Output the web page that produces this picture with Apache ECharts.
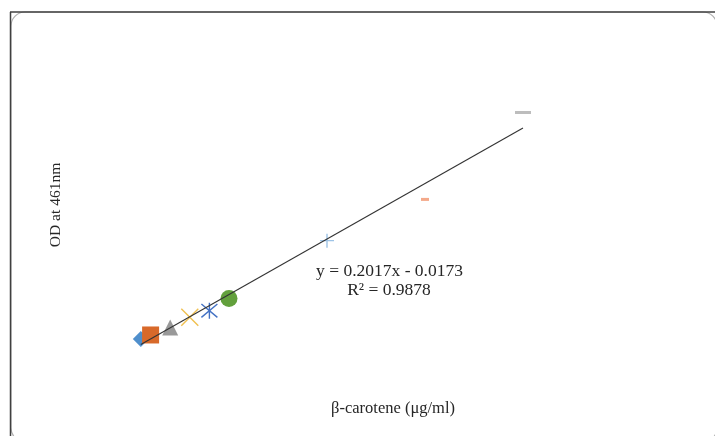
<!DOCTYPE html>
<html>
<head>
<meta charset="utf-8">
<script src="https://cdn.jsdelivr.net/npm/echarts@6/dist/echarts.min.js"></script>
<style>
html,body{margin:0;padding:0;background:#fff;}
#chart{width:715px;height:436px;}
</style>
</head>
<body>
<div id="chart"></div>
<script>
// ---- data ----
const concentrations = [0.5, 1, 2, 3, 4, 5, 10, 15, 20];
const odValues = [0.18, 0.255, 0.39, 0.576, 0.696, 0.92, 1.97, 2.72, 4.30];
const trendSlope = 0.2017;
const trendIntercept = -0.0173;
const rSquared = 0.9878;
const xTitle = 'β-carotene (μg/ml)';
const yTitle = 'OD at 461nm';

// ---- styles ----
const markerSymbols = [
  'diamond', 'rect', 'triangle',
  'path://M0,0 L10,10 M10,0 L0,10',
  'path://M0,0 L10,10 M10,0 L0,10 M5,-1 L5,11',
  'circle',
  'path://M0,5 L10,5 M5,0 L5,10',
  'rect', 'rect'
];
const markerColors = ['#4F8FCC', '#D8692A', '#999999', '#F0C050', '#4472C4', '#62A03C', '#9DC3E6', '#F4A98A', '#BDBDBD'];
const markerSizes = [16, 17, 16, 17, 16, 17, 14, [8, 3], [16, 3]];
const strokeOnly = [false, false, false, true, true, false, true, false, false];

const series = concentrations.map((x, i) => ({
  type: 'scatter',
  data: [[x, odValues[i]]],
  symbol: markerSymbols[i],
  symbolSize: markerSizes[i],
  z: 2,
  itemStyle: strokeOnly[i]
    ? { color: 'none', borderColor: markerColors[i], borderWidth: 1.4, opacity: 1 }
    : { color: markerColors[i], opacity: 1 }
}));
const xs0 = concentrations[0], xs1 = concentrations[concentrations.length - 1];
series.push({
  type: 'line',
  data: [[xs0, trendSlope * xs0 + trendIntercept], [xs1, trendSlope * xs1 + trendIntercept]],
  showSymbol: false,
  symbol: 'none',
  z: 5,
  lineStyle: { color: '#333333', width: 1.1 },
  silent: true
});

const chart = echarts.init(document.getElementById('chart'), null, { renderer: 'canvas' });
const font = 'Liberation Serif, Times New Roman, serif';
chart.setOption({
  animation: false,
  backgroundColor: '#fff',
  grid: { left: 131, right: 94, top: 74, bottom: 87 },
  xAxis: { type: 'value', min: 0, max: 25, show: false },
  yAxis: { type: 'value', min: 0, max: 5, show: false },
  series: series,
  graphic: [
    { type: 'rect', shape: { x: 11, y: 12, width: 706, height: 430, r: 14 }, style: { fill: 'none', stroke: '#AFAFAF', lineWidth: 1.2 }, z: 0 },
    { type: 'line', shape: { x1: 10, y1: 12, x2: 715, y2: 12 }, style: { stroke: '#404040', lineWidth: 1.5 }, z: 1 },
    { type: 'line', shape: { x1: 10.5, y1: 12, x2: 10.5, y2: 436 }, style: { stroke: '#404040', lineWidth: 1.5 }, z: 1 },
    { type: 'text', x: 389.5, y: 271, style: { text: 'y = ' + trendSlope.toFixed(4) + 'x - ' + Math.abs(trendIntercept).toFixed(4), font: '17.5px ' + font, fill: '#262626', textAlign: 'center', textVerticalAlign: 'middle' }, z: 10 },
    { type: 'text', x: 389, y: 290.5, style: { text: 'R² = ' + rSquared.toFixed(4), font: '17.5px ' + font, fill: '#262626', textAlign: 'center', textVerticalAlign: 'middle' }, z: 10 },
    { type: 'text', x: 393, y: 409, style: { text: xTitle, font: '16.5px ' + font, fill: '#262626', textAlign: 'center', textVerticalAlign: 'middle' }, z: 10 },
    { type: 'text', x: 55.5, y: 205, rotation: Math.PI / 2, style: { text: yTitle, font: '15.5px ' + font, fill: '#262626', textAlign: 'center', textVerticalAlign: 'middle' }, z: 10 }
  ]
});
</script>
</body>
</html>
